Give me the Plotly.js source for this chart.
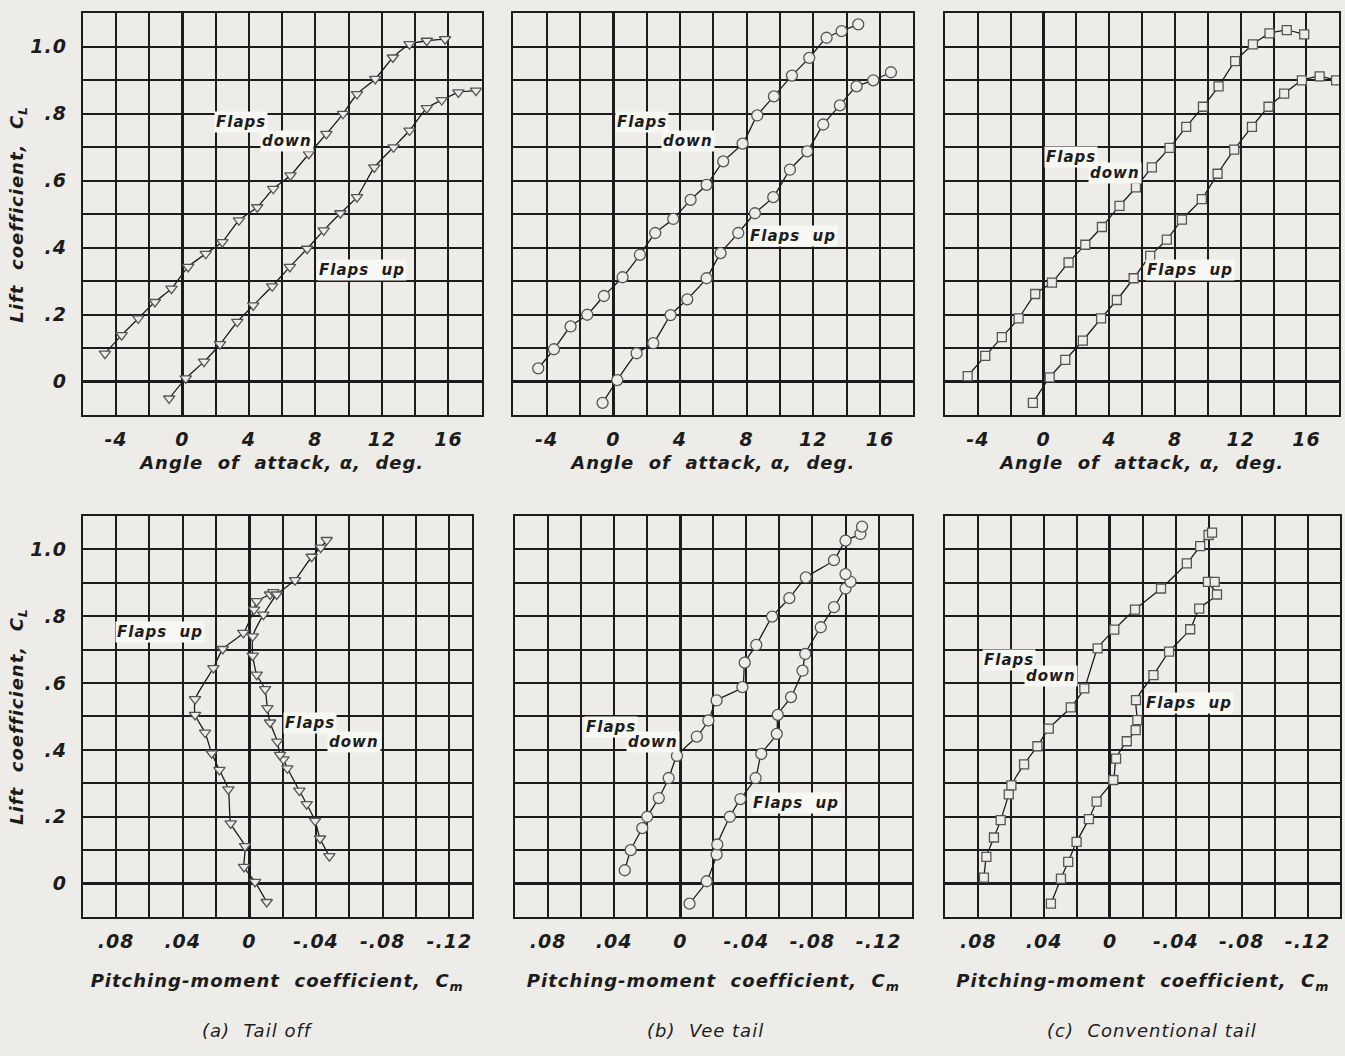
<!DOCTYPE html>
<html>
<head>
<meta charset="utf-8">
<script src="https://cdn.plot.ly/plotly-3.0.1.min.js"></script>
<style>
  html, body { margin: 0; padding: 0; background: #edece8; }
  #chart { width: 1345px; height: 1056px; }
  svg text { letter-spacing: 1px; }
</style>
</head>
<body>
<div id="chart"></div>
<script>
// ---------------- data ----------------
// (a) Tail off — lift vs angle of attack
const tailOffDownAlpha = [-4.66,-3.66,-2.66,-1.66,-0.66,0.34,1.4,2.4,3.4,4.5,5.46,6.5,7.6,8.66,9.66,10.5,11.6,12.66,13.66,14.7,15.8];
const tailOffDownCL    = [0.084,0.139,0.189,0.238,0.278,0.343,0.382,0.417,0.482,0.521,0.576,0.616,0.68,0.74,0.80,0.859,0.904,0.968,1.008,1.018,1.023];
const tailOffUpAlpha   = [-0.8,0.2,1.3,2.26,3.3,4.26,5.4,6.46,7.5,8.5,9.5,10.5,11.54,12.7,13.66,14.7,15.6,16.6,17.66];
const tailOffUpCL      = [-0.05,0.01,0.06,0.112,0.179,0.228,0.285,0.343,0.397,0.452,0.503,0.551,0.64,0.70,0.75,0.817,0.841,0.864,0.869];

// (b) Vee tail — lift vs angle of attack
const veeDownAlpha = [-4.5,-3.56,-2.56,-1.56,-0.56,0.56,1.6,2.52,3.6,4.64,5.6,6.6,7.76,8.64,9.64,10.72,11.76,12.8,13.7,14.7];
const veeDownCL    = [0.04,0.097,0.165,0.20,0.256,0.312,0.379,0.444,0.486,0.543,0.588,0.658,0.711,0.795,0.852,0.914,0.967,1.027,1.047,1.067];
const veeUpAlpha   = [-0.64,0.24,1.4,2.4,3.44,4.44,5.6,6.44,7.5,8.5,9.6,10.6,11.64,12.6,13.6,14.6,15.6,16.66];
const veeUpCL      = [-0.063,0.005,0.085,0.115,0.199,0.246,0.309,0.384,0.444,0.503,0.551,0.633,0.688,0.768,0.825,0.882,0.90,0.924];

// (c) Conventional tail — lift vs angle of attack
const convDownAlpha = [-4.62,-3.55,-2.54,-1.52,-0.51,0.51,1.52,2.54,3.55,4.62,5.62,6.59,7.67,8.68,9.7,10.65,11.66,12.74,13.75,14.8,15.86];
const convDownCL    = [0.017,0.077,0.133,0.189,0.262,0.296,0.356,0.409,0.462,0.525,0.58,0.64,0.698,0.761,0.821,0.882,0.957,1.007,1.04,1.05,1.037];
const convUpAlpha   = [-0.65,0.37,1.32,2.39,3.5,4.46,5.48,6.49,7.5,8.42,9.63,10.59,11.6,12.68,13.69,14.64,15.72,16.8,17.8];
const convUpCL      = [-0.063,0.013,0.065,0.123,0.189,0.244,0.309,0.376,0.424,0.484,0.545,0.621,0.693,0.761,0.821,0.86,0.90,0.912,0.90];

// (a) Tail off — lift vs pitching moment
const tailOffUpCm   = [-0.0104,-0.0034,0.0032,0.0026,0.0112,0.0126,0.018,0.0226,0.0266,0.0326,0.0326,0.0216,0.016,0.0036,-0.0028,-0.0044,-0.0124,-0.0144];
const tailOffUpCLm  = [-0.055,0.005,0.05,0.112,0.18,0.282,0.34,0.39,0.452,0.505,0.552,0.645,0.702,0.75,0.82,0.845,0.865,0.872];
const tailOffDownCm  = [-0.048,-0.0424,-0.0394,-0.0344,-0.030,-0.0228,-0.0204,-0.0184,-0.0168,-0.0124,-0.0108,-0.0094,-0.0044,-0.002,-0.002,-0.0084,-0.0164,-0.0274,-0.0374,-0.0428,-0.0464];
const tailOffDownCLm = [0.082,0.135,0.188,0.238,0.278,0.345,0.372,0.385,0.425,0.482,0.525,0.582,0.625,0.682,0.74,0.805,0.865,0.908,0.978,1.005,1.028];

// (b) Vee tail — lift vs pitching moment
const veeDownCm  = [0.0336,0.030,0.023,0.020,0.013,0.007,0.002,-0.010,-0.017,-0.022,-0.0376,-0.039,-0.046,-0.0556,-0.066,-0.076,-0.093,-0.100,-0.109,-0.110];
const veeDownCLm = [0.04,0.10,0.166,0.20,0.256,0.316,0.382,0.44,0.488,0.548,0.588,0.661,0.714,0.799,0.854,0.916,0.968,1.026,1.046,1.068];
const veeUpCm    = [-0.0056,-0.016,-0.022,-0.0224,-0.030,-0.0364,-0.0456,-0.049,-0.0584,-0.059,-0.067,-0.074,-0.0756,-0.085,-0.093,-0.100,-0.103,-0.100];
const veeUpCLm   = [-0.06,0.007,0.087,0.117,0.20,0.253,0.316,0.388,0.448,0.505,0.558,0.637,0.687,0.767,0.827,0.883,0.903,0.926];

// (c) Conventional tail — lift vs pitching moment
const convDownCm  = [0.0766,0.0751,0.0705,0.0664,0.0615,0.0599,0.0522,0.0441,0.0372,0.0238,0.0156,0.0075,-0.0026,-0.0152,-0.031,-0.0467,-0.0548,-0.0599,-0.062];
const convDownCLm = [0.018,0.08,0.138,0.19,0.267,0.294,0.357,0.411,0.464,0.527,0.584,0.704,0.76,0.82,0.883,0.958,1.01,1.043,1.05];
const convUpCm    = [0.0359,0.0298,0.0254,0.0203,0.0128,0.0081,-0.002,-0.0037,-0.0102,-0.0156,-0.0166,-0.0158,-0.0264,-0.0359,-0.0487,-0.0542,-0.065,-0.0595,-0.0636];
const convUpCLm   = [-0.06,0.015,0.065,0.125,0.193,0.245,0.31,0.374,0.426,0.459,0.489,0.549,0.624,0.694,0.761,0.823,0.865,0.903,0.903];

// tick values / labels (labelled major ticks + unlabelled minor grid values)
const alphaTickVals  = [-4,0,4,8,12,16];
const alphaTickText  = ['-4','0','4','8','12','16'];
const alphaMinorVals = [-6,-2,2,6,10,14,18];
const clTickVals  = [0,0.2,0.4,0.6,0.8,1.0];
const clTickText  = ['0','.2','.4','.6','.8','1.0'];
const clMinorVals = [-0.1,0.1,0.3,0.5,0.7,0.9,1.1];
const cmTickVals  = [0.08,0.04,0,-0.04,-0.08,-0.12];
const cmTickText  = ['.08','.04','0','-.04','-.08','-.12'];
const cmMinorVals = [0.1,0.06,0.02,-0.02,-0.06,-0.10,-0.14];

const panelCaptions = ['(a)  Tail off', '(b)  Vee tail', '(c)  Conventional tail'];

// ---------------- styling ----------------
const PAPER = '#edece8';
const INK = '#1c1c1c';
const FONT = 'DejaVu Sans';
const tickFont  = {family: FONT, size: 19, color: INK, weight: 'bold', style: 'italic'};
const titleFont = {family: FONT, size: 18, color: INK, weight: 'bold', style: 'italic'};
const labelFont = {family: FONT, size: 15, color: INK, weight: 'bold', style: 'italic'};

function series(x, y, xa, ya, symbol, size) {
  return {
    x: x, y: y, xaxis: xa, yaxis: ya, type: 'scatter', mode: 'lines+markers',
    line: {color: INK, width: 1.3, shape: 'spline', smoothing: 0.5},
    marker: {symbol: symbol, size: size, color: PAPER, line: {color: '#555', width: 1.3}},
    showlegend: false, hoverinfo: 'x+y'
  };
}

const data = [
  series(tailOffDownAlpha, tailOffDownCL, 'x', 'y', 'triangle-down', 10),
  series(tailOffUpAlpha, tailOffUpCL, 'x', 'y', 'triangle-down', 10),
  series(veeDownAlpha, veeDownCL, 'x2', 'y2', 'circle', 11),
  series(veeUpAlpha, veeUpCL, 'x2', 'y2', 'circle', 11),
  series(convDownAlpha, convDownCL, 'x3', 'y3', 'square', 9),
  series(convUpAlpha, convUpCL, 'x3', 'y3', 'square', 9),
  series(tailOffUpCm, tailOffUpCLm, 'x4', 'y4', 'triangle-down', 10),
  series(tailOffDownCm, tailOffDownCLm, 'x4', 'y4', 'triangle-down', 10),
  series(veeDownCm, veeDownCLm, 'x5', 'y5', 'circle', 11),
  series(veeUpCm, veeUpCLm, 'x5', 'y5', 'circle', 11),
  series(convDownCm, convDownCLm, 'x6', 'y6', 'square', 9),
  series(convUpCm, convUpCLm, 'x6', 'y6', 'square', 9)
];

function common() {
  return {
    showgrid: true, gridcolor: INK, gridwidth: 2,
    zeroline: true, zerolinecolor: INK, zerolinewidth: 3,
    showline: true, mirror: true, linecolor: INK, linewidth: 2,
    ticks: '', tickfont: tickFont, fixedrange: true
  };
}
function xAxis(domain, range, vals, text, minorVals, anchor, title, standoff) {
  return Object.assign(common(), {
    domain: domain, range: range, anchor: anchor,
    tickmode: 'array', tickvals: vals, ticktext: text,
    minor: {tickmode: 'array', tickvals: minorVals, showgrid: true, gridcolor: INK, gridwidth: 2, ticks: ''},
    ticklabelstandoff: 6,
    title: {text: title, font: titleFont, standoff: standoff}
  });
}
function yAxis(domain, anchor, showLabels, title) {
  const ax = Object.assign(common(), {
    domain: domain, range: [-0.1, 1.1], anchor: anchor,
    tickmode: 'array', tickvals: clTickVals, ticktext: clTickText,
    minor: {tickmode: 'array', tickvals: clMinorVals, showgrid: true, gridcolor: INK, gridwidth: 2, ticks: ''},
    showticklabels: showLabels, ticklabelstandoff: 10
  });
  if (title) ax.title = {text: title, font: titleFont, standoff: 2};
  return ax;
}

const topY = [0.6068, 0.9874];
const botY = [0.1316, 0.5114];
const alphaTitle = 'Angle  of  attack, α,  deg.';
const cmTitle = 'Pitching-moment  coefficient,  C<sub>m</sub>';
const clTitle = 'Lift  coefficient,  C<sub>L</sub>';

const layout = {
  width: 1345, height: 1056,
  margin: {l: 0, r: 0, t: 0, b: 0},
  paper_bgcolor: PAPER, plot_bgcolor: PAPER,
  showlegend: false,
  xaxis:  xAxis([0.0615, 0.3581], [-6, 18], alphaTickVals, alphaTickText, alphaMinorVals, 'y', alphaTitle, 7),
  xaxis2: xAxis([0.3816, 0.6790], [-6, 18], alphaTickVals, alphaTickText, alphaMinorVals, 'y2', alphaTitle, 7),
  xaxis3: xAxis([0.7026, 0.9958], [-6, 18], alphaTickVals, alphaTickText, alphaMinorVals, 'y3', alphaTitle, 7),
  xaxis4: xAxis([0.0615, 0.3507], [0.10, -0.1334], cmTickVals, cmTickText, cmMinorVals, 'y4', cmTitle, 24),
  xaxis5: xAxis([0.3829, 0.6778], [0.10, -0.14], cmTickVals, cmTickText, cmMinorVals, 'y5', cmTitle, 24),
  xaxis6: xAxis([0.7029, 0.9966], [0.10, -0.14], cmTickVals, cmTickText, cmMinorVals, 'y6', cmTitle, 24),
  yaxis:  yAxis(topY, 'x', true, clTitle),
  yaxis2: yAxis(topY, 'x2', false, null),
  yaxis3: yAxis(topY, 'x3', false, null),
  yaxis4: yAxis(botY, 'x4', true, clTitle),
  yaxis5: yAxis(botY, 'x5', false, null),
  yaxis6: yAxis(botY, 'x6', false, null),
  annotations: []
};

function label(text, x, y, xr, yr) {
  layout.annotations.push({
    text: text, x: x, y: y, xref: xr, yref: yr, showarrow: false,
    font: labelFont, bgcolor: '#f7f7f4', borderpad: 1
  });
}
// curve labels
label('Flaps', 3.5, 0.775, 'x', 'y');  label('down', 6.3, 0.72, 'x', 'y');
label('Flaps  up', 10.8, 0.333, 'x', 'y');
label('Flaps', 1.72, 0.775, 'x2', 'y2'); label('down', 4.5, 0.72, 'x2', 'y2');
label('Flaps  up', 10.8, 0.435, 'x2', 'y2');
label('Flaps', 1.68, 0.67, 'x3', 'y3'); label('down', 4.36, 0.623, 'x3', 'y3');
label('Flaps  up', 8.9, 0.333, 'x3', 'y3');
label('Flaps  up', 0.0536, 0.752, 'x4', 'y4');
label('Flaps', -0.0364, 0.482, 'x4', 'y4'); label('down', -0.0628, 0.423, 'x4', 'y4');
label('Flaps', 0.042, 0.47, 'x5', 'y5'); label('down', 0.0162, 0.425, 'x5', 'y5');
label('Flaps  up', -0.070, 0.242, 'x5', 'y5');
label('Flaps', 0.0614, 0.669, 'x6', 'y6'); label('down', 0.0359, 0.62, 'x6', 'y6');
label('Flaps  up', -0.048, 0.54, 'x6', 'y6');

// panel captions
const captionX = [257 / 1345, 705 / 1345, 1152 / 1345];
panelCaptions.forEach(function (t, i) {
  layout.annotations.push({
    text: t, x: captionX[i], y: (1056 - 1030) / 1056, xref: 'paper', yref: 'paper',
    showarrow: false, xanchor: 'center', yanchor: 'middle',
    font: {family: FONT, size: 18, color: INK, style: 'italic'}
  });
});

Plotly.newPlot('chart', data, layout, {staticPlot: true, displayModeBar: false});
</script>
</body>
</html>
